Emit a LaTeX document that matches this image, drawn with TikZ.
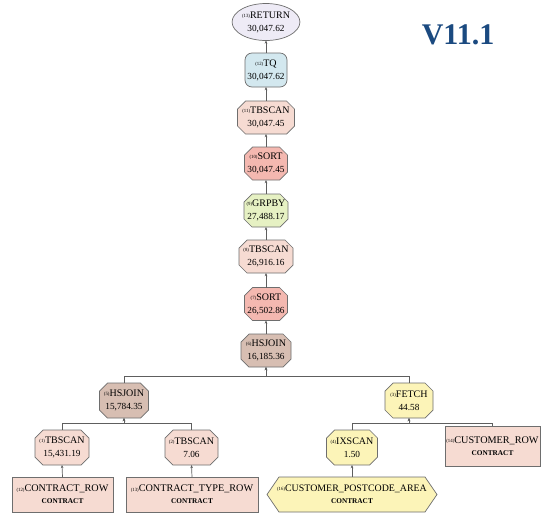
\documentclass[tikz,border=0pt]{standalone}
\usepackage{fontspec}
\setmainfont{Liberation Serif}
\usetikzlibrary{shapes.geometric,arrows.meta,calc,backgrounds}

\definecolor{frameGray}{HTML}{6E6E6E}
\definecolor{wireGray}{HTML}{5E5E5E}
\definecolor{retFill}{HTML}{EEEBF6}
\definecolor{tqFill}{HTML}{D3E8EF}
\definecolor{scanFill}{HTML}{F6DBD2}
\definecolor{sortFill}{HTML}{F4B8B0}
\definecolor{grpFill}{HTML}{E6F1C3}
\definecolor{joinFill}{HTML}{D7BEB2}
\definecolor{idxFill}{HTML}{FCF4B8}
\definecolor{titleBlue}{HTML}{1B4A80}

% operator number printed in front of each operator name
\newcommand\opno[1]{\raisebox{0.8pt}{\fontsize{4.8}{5}\selectfont(#1)}}
% cost figure on the second line
\newcommand\cost[1]{{\fontsize{9.3}{13}\selectfont #1}}
% schema name under a table name
\newcommand\schema[1]{{\fontsize{7.3}{12}\selectfont\bfseries #1}}

% chamfered outline behind an operator node
\newcommand\drawoct[2]{%
  \begin{pgfonlayer}{background}
    \filldraw[frame, fill=#2]
      ($(#1.north west)+(8,0)$) -- ($(#1.north east)+(-8,0)$) --
      ($(#1.north east)+(0,8)$) -- ($(#1.south east)+(0,-8)$) --
      ($(#1.south east)+(-8,0)$) -- ($(#1.south west)+(8,0)$) --
      ($(#1.south west)+(0,-8)$) -- ($(#1.north west)+(0,8)$) -- cycle;
  \end{pgfonlayer}}

% hexagonal outline behind an index node
\newcommand\drawhex[2]{%
  \begin{pgfonlayer}{background}
    \filldraw[frame, fill=#2]
      ($(#1.north west)+(12,0)$) -- ($(#1.north east)+(-12,0)$) --
      (#1.east) -- ($(#1.south east)+(-12,0)$) --
      ($(#1.south west)+(12,0)$) -- (#1.west) -- cycle;
  \end{pgfonlayer}}

\tikzset{
  frame/.style={draw=frameGray, line width=0.7pt},
  op/.style={rectangle, inner sep=0pt, outer sep=0pt, align=center,
    font=\fontsize{10}{13}\selectfont},
  tbl/.style={op, frame, fill=scanFill, font=\fontsize{10.2}{12}\selectfont},
  edge/.style={draw=wireGray, line width=0.7pt,
    -{Stealth[length=3.2pt,width=2.6pt]}},
}

\begin{document}
\begin{tikzpicture}[x=1pt,y=-1pt]
  \begin{pgfonlayer}{background}
    \fill[white] (0,0) rectangle (546,515);
  \end{pgfonlayer}
  \useasboundingbox (0,0) rectangle (546,515);

  % title
  \node[font=\fontsize{30}{32}\selectfont\bfseries, text=titleBlue] (title) at (458,35) {V11.1};

  % main chain
  \node[op, ellipse, frame, fill=retFill, minimum width=59, minimum height=37] (ret) at (266,22)
    {\opno{13}RETURN\\\cost{30,047.62}};
  \node[op, frame, fill=tqFill, rounded corners=7pt, minimum width=42, minimum height=34] (tq) at (266,70)
    {\opno{12}TQ\\\cost{30,047.62}};
  \node[op, minimum width=57, minimum height=33] (tb11) at (266,117.5)
    {\opno{11}TBSCAN\\\cost{30,047.45}};
  \node[op, minimum width=43, minimum height=33] (so10) at (266,163.5)
    {\opno{10}SORT\\\cost{30,047.45}};
  \node[op, minimum width=44, minimum height=33] (gb9) at (266,210.5)
    {\opno{9}GRPBY\\\cost{27,488.17}};
  \node[op, minimum width=54, minimum height=33] (tb8) at (266,256.5)
    {\opno{8}TBSCAN\\\cost{26,916.16}};
  \node[op, minimum width=43, minimum height=33] (so7) at (266,304)
    {\opno{7}SORT\\\cost{26,502.86}};
  \node[op, minimum width=50, minimum height=33] (hj6) at (266,350.5)
    {\opno{6}HSJOIN\\\cost{16,185.36}};

  % second level
  \node[op, minimum width=49, minimum height=35] (hj5) at (124,400.5)
    {\opno{5}HSJOIN\\\cost{15,784.35}};
  \node[op, minimum width=48, minimum height=35] (fe3) at (409,400.5)
    {\opno{3}FETCH\\\cost{44.58}};

  % third level
  \node[op, minimum width=54, minimum height=35] (tb1) at (62,447.5)
    {\opno{1}TBSCAN\\\cost{15,431.19}};
  \node[op, minimum width=53, minimum height=35] (tb2) at (191.5,447.5)
    {\opno{2}TBSCAN\\\cost{7.06}};
  \node[op, minimum width=51, minimum height=35] (ix4) at (352,447.5)
    {\opno{4}IXSCAN\\\cost{1.50}};
  \node[tbl, minimum width=95, minimum height=40] (cr14) at (492.5,446)
    {\opno{14}CUSTOMER\_ROW\\\schema{CONTRACT}};

  % base objects
  \node[tbl, minimum width=101, minimum height=35] (cr12) at (62.5,494.5)
    {\opno{12}CONTRACT\_ROW\\\schema{CONTRACT}};
  \node[tbl, minimum width=132, minimum height=35] (ctr13) at (192,494.5)
    {\opno{13}CONTRACT\_TYPE\_ROW\\\schema{CONTRACT}};
  \node[op, minimum width=170, minimum height=35, font=\fontsize{9.9}{12}\selectfont] (pc16) at (352,494.5)
    {\opno{16}CUSTOMER\_POSTCODE\_AREA\\\schema{CONTRACT}};

  % outlines
  \drawoct{tb11}{scanFill}
  \drawoct{so10}{sortFill}
  \drawoct{gb9}{grpFill}
  \drawoct{tb8}{scanFill}
  \drawoct{so7}{sortFill}
  \drawoct{hj6}{joinFill}
  \drawoct{hj5}{joinFill}
  \drawoct{fe3}{idxFill}
  \drawoct{tb1}{scanFill}
  \drawoct{tb2}{scanFill}
  \drawoct{ix4}{idxFill}
  \drawhex{pc16}{idxFill}

  % connectors, child to parent
  \draw[edge] (tq.north) -- (ret.south);
  \draw[edge] (tb11.north) -- (tq.south);
  \draw[edge] (so10.north) -- (tb11.south);
  \draw[edge] (gb9.north) -- (so10.south);
  \draw[edge] (tb8.north) -- (gb9.south);
  \draw[edge] (so7.north) -- (tb8.south);
  \draw[edge] (hj6.north) -- (so7.south);
  \draw[edge] (hj5.north) |- ($(hj6.south)+(0,9)$) -- (hj6.south);
  \draw[edge] (fe3.north) |- ($(hj6.south)+(0,9)$) -- (hj6.south);
  \draw[edge] (tb1.north) |- ($(hj5.south)+(0,5)$) -- (hj5.south);
  \draw[edge] (tb2.north) |- ($(hj5.south)+(0,5)$) -- (hj5.south);
  \draw[edge] (ix4.north) |- ($(fe3.south)+(0,5)$) -- (fe3.south);
  \draw[edge] (cr14.north) |- ($(fe3.south)+(0,5)$) -- (fe3.south);
  \draw[edge] (cr12.north) -- (tb1.south);
  \draw[edge] (ctr13.north) -- (tb2.south);
  \draw[edge] (pc16.north) -- (ix4.south);
\end{tikzpicture}
\end{document}
